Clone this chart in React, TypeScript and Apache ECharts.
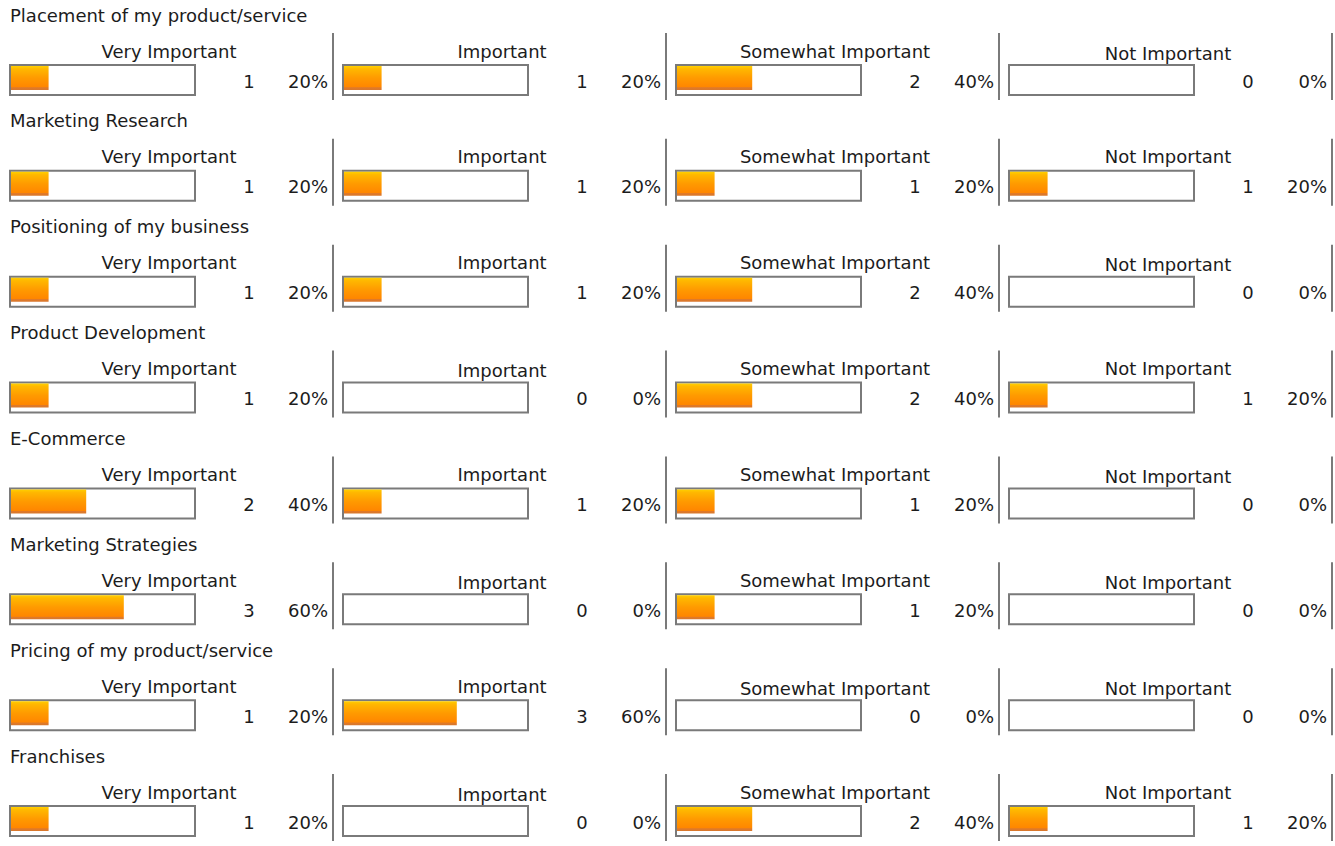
import React, { useEffect, useRef } from "react";
import * as echarts from "echarts";

const questions = [
  "Placement of my product/service",
  "Marketing Research",
  "Positioning of my business",
  "Product Development",
  "E-Commerce",
  "Marketing Strategies",
  "Pricing of my product/service",
  "Franchises",
];
const levels = ["Very Important", "Important", "Somewhat Important", "Not Important"];
const counts = [
  [1, 1, 2, 0],
  [1, 1, 1, 1],
  [1, 1, 2, 0],
  [1, 0, 2, 1],
  [2, 1, 1, 0],
  [3, 0, 1, 0],
  [1, 3, 0, 0],
  [1, 0, 2, 1],
];
const percents = [
  [20, 20, 40, 0],
  [20, 20, 20, 20],
  [20, 20, 40, 0],
  [20, 0, 40, 20],
  [40, 20, 20, 0],
  [60, 0, 20, 0],
  [20, 60, 0, 0],
  [20, 0, 40, 20],
];

const FONT = "DejaVu Sans";
const FS = 18;
const COLW = 333;
const ROWH = 105.86;
const TXT = "#1c1c1c";
const GRAY = "#7a7a7a";

export default function App() {
  const ref = useRef<HTMLDivElement>(null);
  useEffect(() => {
    if (!ref.current) return;
    const chart = echarts.init(ref.current, undefined, { renderer: "svg" });
    const grid: any[] = [];
    const xAxis: any[] = [];
    const yAxis: any[] = [];
    const series: any[] = [];
    const graphic: any[] = [];
    const barColor = new echarts.graphic.LinearGradient(0, 0, 0, 1, [
      { offset: 0, color: "#ffd000" },
      { offset: 0.12, color: "#ffb800" },
      { offset: 0.5, color: "#ff9a00" },
      { offset: 0.88, color: "#ff8600" },
      { offset: 0.9, color: "#e07a28" },
      { offset: 1, color: "#d9772c" },
    ]);
    questions.forEach((q, r) => {
      const ry = r * ROWH;
      graphic.push({
        type: "text",
        x: 10,
        y: ry + 15,
        style: { text: q, fill: TXT, font: `${FS}px "${FONT}"`, textVerticalAlign: "middle", textAlign: "left" },
      });
      levels.forEach((lv, c) => {
        const cx = c * COLW;
        const i = r * 4 + c;
        grid.push({ left: cx + 11, top: ry + 66, width: 188, height: 24, containLabel: false });
        xAxis.push({ type: "value", gridIndex: i, min: 0, max: 100, show: false });
        yAxis.push({ type: "category", gridIndex: i, data: [lv], show: false });
        series.push({
          type: "bar",
          xAxisIndex: i,
          yAxisIndex: i,
          data: [percents[r][c]],
          barWidth: "100%",
          itemStyle: { color: barColor },
          silent: true,
        });
        graphic.push({
          type: "rect",
          shape: { x: cx + 10, y: ry + 65, width: 185, height: 30 },
          style: { fill: "none", stroke: GRAY, lineWidth: 2 },
          z: -1,
        });
        graphic.push({
          type: "line",
          shape: { x1: cx + 333, y1: ry + 33, x2: cx + 333, y2: ry + 100 },
          style: { stroke: GRAY, lineWidth: 2 },
        });
        graphic.push({
          type: "text",
          x: cx + 169,
          y: ry + (counts[r][c] === 0 ? 53 : 51),
          style: { text: lv, fill: TXT, font: `${FS}px "${FONT}"`, textAlign: "center", textVerticalAlign: "middle" },
        });
        graphic.push({
          type: "text",
          x: cx + 249,
          y: ry + 81,
          style: { text: String(counts[r][c]), fill: TXT, font: `${FS}px "${FONT}"`, textAlign: "center", textVerticalAlign: "middle" },
        });
        graphic.push({
          type: "text",
          x: cx + 328,
          y: ry + 81,
          style: { text: `${percents[r][c]}%`, fill: TXT, font: `${FS}px "${FONT}"`, textAlign: "right", textVerticalAlign: "middle" },
        });
      });
    });
    chart.setOption({ animation: false, grid, xAxis, yAxis, series, graphic });
    return () => chart.dispose();
  }, []);
  return <div ref={ref} style={{ position: "fixed", left: 0, top: 0, width: 1335, height: 846, background: "#fff" }} />;
}
